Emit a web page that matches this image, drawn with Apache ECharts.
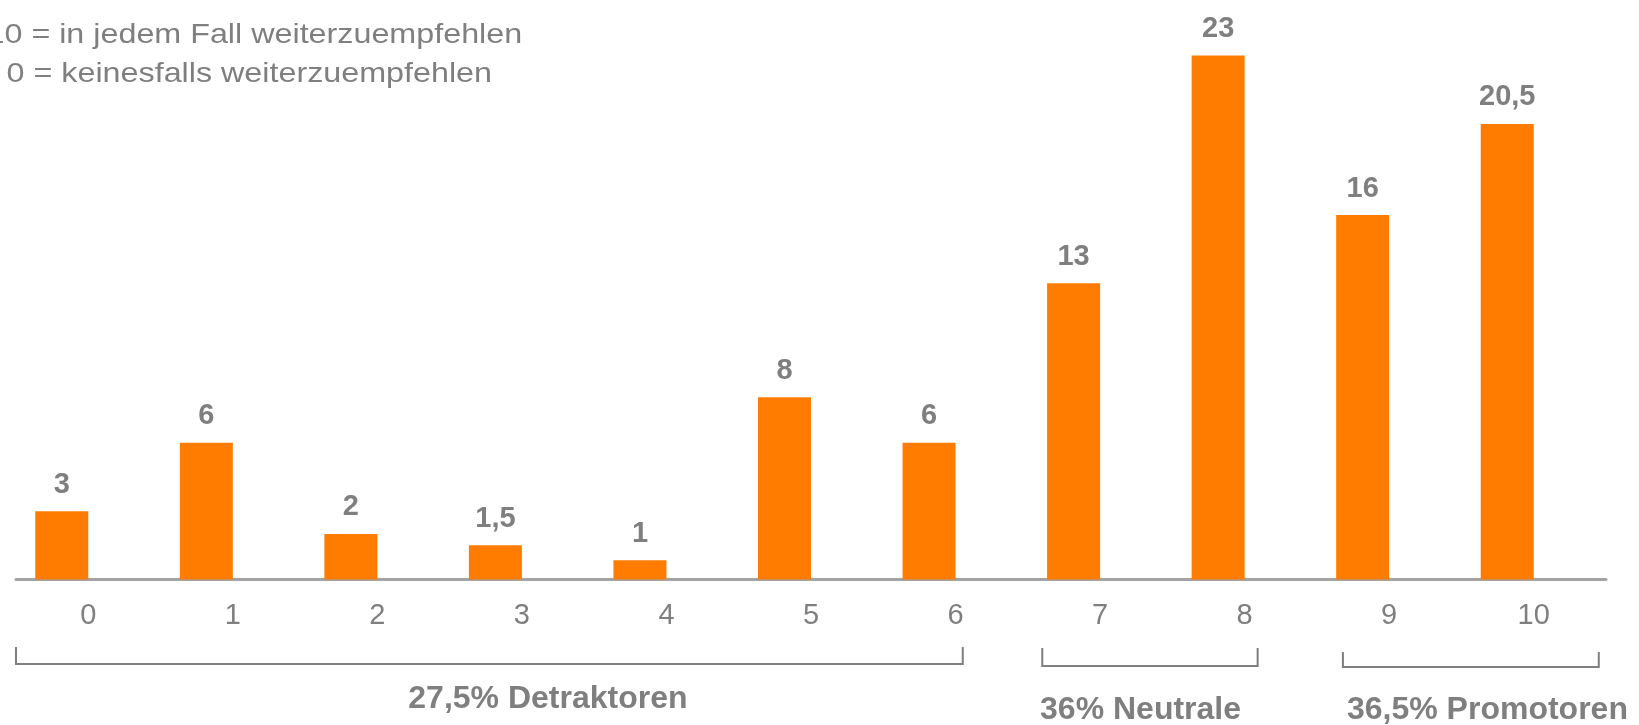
<!DOCTYPE html>
<html>
<head>
<meta charset="utf-8">
<script src="https://cdn.jsdelivr.net/npm/echarts@6/dist/echarts.min.js"></script>
<style>
  html, body { margin: 0; padding: 0; background: #fff; }
  #chart { width: 1639px; height: 725px; }
</style>
</head>
<body>
<div id="chart"></div>
<script>
// Bewertungsskala 0..10
const categories = ["0", "1", "2", "3", "4", "5", "6", "7", "8", "9", "10"];
// Balkenhoehen, wie im Bild gezeichnet
const barHeights = [3, 6, 2, 1.5, 0.85, 8, 6, 13, 23, 16, 20];
// beschriftete Werte in %
const shareLabels = ["3", "6", "2", "1,5", "1", "8", "6", "13", "23", "16", "20,5"];
// Gruppen unter der Achse
const groupLabels = ["27,5% Detraktoren", "36% Neutrale", "36,5% Promotoren"];
const noteLines = ["10 = in jedem Fall weiterzuempfehlen", "0 = keinesfalls weiterzuempfehlen"];

// Klammern in Kategorie-Einheiten (Start, Ende, Textmitte) + y-Lage
const bracketLayout = [
  { from: -0.5, to: 6.05, mid: 3.18, top: 647, bottom: 664, textY: 699 },
  { from: 6.6, to: 8.09, mid: 7.28, top: 648, bottom: 666, textY: 710 },
  { from: 8.68, to: 10.45, mid: 9.68, top: 652, bottom: 667, textY: 710 }
];

const grey = "#7f7f7f";
const orange = "#ff7c00";
const font = "'Liberation Sans', Arial, sans-serif";

const chart = echarts.init(document.getElementById("chart"));

chart.setOption({
  animation: false,
  grid: { left: 16, right: 33, top: 10, bottom: 145.5 },
  xAxis: {
    type: "category",
    data: categories,
    axisLine: { lineStyle: { color: "#a3a3a3", width: 3 } },
    axisTick: { show: false },
    axisLabel: { color: grey, fontSize: 29, fontFamily: font, margin: 22 }
  },
  yAxis: { type: "value", min: 0, max: 25, show: false, splitLine: { show: false } },
  series: [
    {
      type: "bar",
      data: barHeights,
      barWidth: 53,
      barGap: "0%",
      itemStyle: { color: orange },
      label: {
        show: true,
        position: "top",
        distance: 12,
        color: grey,
        fontSize: 29,
        fontWeight: "bold",
        fontFamily: font,
        formatter: p => shareLabels[p.dataIndex]
      }
    },
    // leerer Platzhalter, damit die Balken links in der Kategorie sitzen
    { type: "bar", data: [], barWidth: 53 }
  ]
});

function drawAnnotations() {
  const c0 = chart.convertToPixel({ xAxisIndex: 0 }, categories[0]);
  const c1 = chart.convertToPixel({ xAxisIndex: 0 }, categories[1]);
  const band = c1 - c0;
  const px = v => c0 + v * band;

  const graphic = [];
  bracketLayout.forEach((b, i) => {
    const x1 = px(b.from), x2 = px(b.to);
    graphic.push({
      type: "polyline",
      shape: { points: [[x1, b.top], [x1, b.bottom], [x2, b.bottom], [x2, b.top]] },
      style: { stroke: grey, lineWidth: 2, fill: null }
    });
    graphic.push({
      type: "text",
      x: px(b.mid),
      y: b.textY,
      style: {
        text: groupLabels[i],
        fill: grey,
        font: "bold 32px " + font,
        align: "center",
        verticalAlign: "middle"
      }
    });
  });
  // Legende oben links, etwas breiter laufend als Arial
  graphic.push({
    type: "text", x: -13.5, y: 35, scaleX: 1.153,
    style: { text: noteLines[0], fill: grey, font: "28px " + font, verticalAlign: "middle" }
  });
  graphic.push({
    type: "text", x: 6.6, y: 74, scaleX: 1.153,
    style: { text: noteLines[1], fill: grey, font: "28px " + font, verticalAlign: "middle" }
  });
  chart.setOption({ graphic: graphic });
}
drawAnnotations();
</script>
</body>
</html>
